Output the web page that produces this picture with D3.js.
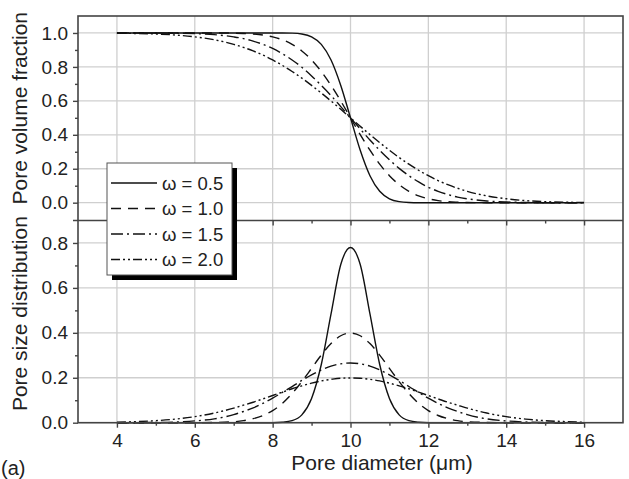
<!DOCTYPE html>
<html>
<head>
<meta charset="utf-8">
<script src="https://cdn.jsdelivr.net/npm/d3@7"></script>
<style>
  body { margin: 0; background: #fff; }
  svg { display: block; font-family: "Liberation Sans", Arial, sans-serif; }
</style>
</head>
<body>
<div id="chart"></div>
<script>
// pore diameter (um), shared by all series
const diameter = [4, 4.5, 5, 5.5, 6, 6.5, 7, 7.25, 7.5, 7.75, 8, 8.25, 8.5, 8.75, 9, 9.25, 9.5, 9.75,
  10, 10.25, 10.5, 10.75, 11, 11.25, 11.5, 11.75, 12, 12.25, 12.5, 12.75, 13, 13.5, 14, 14.5, 15, 15.5, 16];

const omegas = ["0.5", "1.0", "1.5", "2.0"];

// top panel: pore volume fraction
const pvf05 = [1, 1, 1, 1, 1, 1, 1, 1, 1, 1, 1, 1, 0.999, 0.994, 0.977, 0.933, 0.841, 0.691,
  0.5, 0.309, 0.159, 0.067, 0.023, 0.006, 0.001, 0, 0, 0, 0, 0, 0, 0, 0, 0, 0, 0, 0];
const pvf10 = [1, 1, 1, 1, 1, 1, 0.999, 0.997, 0.994, 0.988, 0.977, 0.960, 0.933, 0.894, 0.841, 0.773, 0.691, 0.599,
  0.5, 0.401, 0.309, 0.227, 0.159, 0.106, 0.067, 0.040, 0.023, 0.012, 0.006, 0.003, 0.001, 0, 0, 0, 0, 0, 0];
const pvf15 = [1, 1, 1, 0.999, 0.996, 0.990, 0.977, 0.967, 0.952, 0.933, 0.909, 0.878, 0.841, 0.798, 0.747, 0.691, 0.631, 0.566,
  0.5, 0.434, 0.369, 0.309, 0.253, 0.202, 0.159, 0.122, 0.091, 0.067, 0.048, 0.033, 0.023, 0.010, 0.004, 0.001, 0, 0, 0];
const pvf20 = [0.999, 0.997, 0.994, 0.988, 0.977, 0.960, 0.933, 0.915, 0.894, 0.870, 0.841, 0.809, 0.773, 0.734, 0.691, 0.646, 0.599, 0.550,
  0.5, 0.450, 0.401, 0.354, 0.309, 0.266, 0.227, 0.191, 0.159, 0.130, 0.106, 0.085, 0.067, 0.040, 0.023, 0.012, 0.006, 0.003, 0.001];

// bottom panel: pore size distribution
const psd05 = [0, 0, 0, 0, 0, 0, 0, 0, 0, 0, 0, 0.002, 0.009, 0.035, 0.108, 0.259, 0.484, 0.704,
  0.78, 0.704, 0.484, 0.259, 0.108, 0.035, 0.009, 0.002, 0, 0, 0, 0, 0, 0, 0, 0, 0, 0, 0];
const psd10 = [0, 0, 0, 0, 0, 0.001, 0.004, 0.009, 0.018, 0.032, 0.054, 0.086, 0.130, 0.183, 0.242, 0.301, 0.352, 0.387,
  0.399, 0.387, 0.352, 0.301, 0.242, 0.183, 0.130, 0.086, 0.054, 0.032, 0.018, 0.009, 0.004, 0.001, 0, 0, 0, 0, 0];
const psd15 = [0, 0, 0.001, 0.003, 0.008, 0.017, 0.036, 0.050, 0.066, 0.086, 0.109, 0.135, 0.161, 0.188, 0.213, 0.235, 0.252, 0.262,
  0.266, 0.262, 0.252, 0.235, 0.213, 0.188, 0.161, 0.135, 0.109, 0.086, 0.066, 0.050, 0.036, 0.017, 0.008, 0.003, 0.001, 0, 0];
const psd20 = [0.002, 0.005, 0.009, 0.016, 0.027, 0.043, 0.065, 0.078, 0.091, 0.106, 0.121, 0.136, 0.151, 0.164, 0.176, 0.186, 0.193, 0.198,
  0.199, 0.198, 0.193, 0.186, 0.176, 0.164, 0.151, 0.136, 0.121, 0.106, 0.091, 0.078, 0.065, 0.043, 0.027, 0.016, 0.009, 0.005, 0.002];

const xTicks = [4, 6, 8, 10, 12, 14, 16];
const xMinor = [5, 7, 9, 11, 13, 15];
const topTicks = [0, 0.2, 0.4, 0.6, 0.8, 1.0];
const topMinor = [0.1, 0.3, 0.5, 0.7, 0.9];
const bottomTicks = [0, 0.2, 0.4, 0.6, 0.8];
const bottomMinor = [0.1, 0.3, 0.5, 0.7];

const dashes = ["none", "10,7", "12,4,2,4", "9,3,2,3,2,3"];

const width = 629;
const height = 479;
const left = 78, right = 623;
const topY = 16, midY = 220.5, bottomY = 422.7;
const frameColor = "#444";
const gridColor = "#cfcfcf";
const font = "'Liberation Sans', Arial, sans-serif";

const x = d3.scaleLinear().domain([3, 17]).range([left, right]);
const yTop = d3.scaleLinear().domain([-0.105, 1.1]).range([midY, topY]);
const yBot = d3.scaleLinear().domain([0, 0.9]).range([bottomY, midY]);

const svg = d3.create("svg").attr("width", width).attr("height", height);

// grids
function grid(yScale, yTicks, y0, y1) {
  const g = svg.append("g");
  g.selectAll(".vx").data(xTicks).join("line")
    .attr("x1", (d) => x(d)).attr("x2", (d) => x(d))
    .attr("y1", y0).attr("y2", y1)
    .attr("stroke", gridColor).attr("stroke-width", 1.3);
  g.selectAll(".hy").data(yTicks).join("line")
    .attr("x1", left).attr("x2", right)
    .attr("y1", (d) => yScale(d)).attr("y2", (d) => yScale(d))
    .attr("stroke", gridColor).attr("stroke-width", 1.3);
}
grid(yTop, topTicks, topY, midY);
grid(yBot, bottomTicks, midY, bottomY);

// curves
const topSeries = [pvf05, pvf10, pvf15, pvf20];
const botSeries = [psd05, psd10, psd15, psd20];

const lineTop = d3.line().x((d, i) => x(diameter[i])).y((d) => yTop(d)).curve(d3.curveMonotoneX);
const lineBot = d3.line().x((d, i) => x(diameter[i])).y((d) => yBot(d)).curve(d3.curveMonotoneX);

topSeries.forEach((s, i) => {
  svg.append("path").attr("d", lineTop(s))
    .attr("fill", "none").attr("stroke", "#111").attr("stroke-width", 1.4)
    .attr("stroke-dasharray", dashes[i]);
});
botSeries.forEach((s, i) => {
  svg.append("path").attr("d", lineBot(s))
    .attr("fill", "none").attr("stroke", "#111").attr("stroke-width", 1.4)
    .attr("stroke-dasharray", dashes[i]);
});

// axes
function styleAxis(g) {
  g.select(".domain").remove();
  g.selectAll(".tick line").attr("stroke", frameColor).attr("stroke-width", 1.4);
  g.selectAll(".tick text").attr("fill", "#222").style("font-size", "19px").style("font-family", font);
}

const fmt = d3.format(".1f");

svg.append("g").attr("transform", `translate(${left},0)`)
  .call(d3.axisLeft(yTop).tickValues(topTicks).tickFormat(fmt).tickSize(5).tickPadding(5))
  .call(styleAxis);
svg.append("g").attr("transform", `translate(${left},0)`)
  .call(d3.axisLeft(yTop).tickValues(topMinor).tickFormat("").tickSize(3))
  .call(styleAxis);

svg.append("g").attr("transform", `translate(${left},0)`)
  .call(d3.axisLeft(yBot).tickValues(bottomTicks).tickFormat(fmt).tickSize(5).tickPadding(5))
  .call(styleAxis);
svg.append("g").attr("transform", `translate(${left},0)`)
  .call(d3.axisLeft(yBot).tickValues(bottomMinor).tickFormat("").tickSize(3))
  .call(styleAxis);

svg.append("g").attr("transform", `translate(0,${bottomY})`)
  .call(d3.axisBottom(x).tickValues(xTicks).tickFormat(d3.format("d")).tickSize(5).tickPadding(6))
  .call(styleAxis);
svg.append("g").attr("transform", `translate(0,${bottomY})`)
  .call(d3.axisBottom(x).tickValues(xMinor).tickFormat("").tickSize(3))
  .call(styleAxis);

svg.append("g").attr("transform", `translate(0,${midY})`)
  .call(d3.axisBottom(x).tickValues(xTicks).tickFormat("").tickSize(5))
  .call(styleAxis);
svg.append("g").attr("transform", `translate(0,${midY})`)
  .call(d3.axisBottom(x).tickValues(xMinor).tickFormat("").tickSize(3))
  .call(styleAxis);

// frames
svg.append("rect").attr("x", left).attr("y", topY)
  .attr("width", right - left).attr("height", bottomY - topY)
  .attr("fill", "none").attr("stroke", frameColor).attr("stroke-width", 1.6);
svg.append("line").attr("x1", left - 5).attr("x2", right)
  .attr("y1", midY).attr("y2", midY)
  .attr("stroke", frameColor).attr("stroke-width", 1.6);

// axis titles
svg.append("text")
  .attr("transform", `translate(27,${(topY + midY) / 2 - 10}) rotate(-90)`)
  .attr("text-anchor", "middle").style("font-size", "21px").attr("fill", "#222")
  .text("Pore volume fraction");
svg.append("text")
  .attr("transform", `translate(27,${(midY + bottomY) / 2 - 8}) rotate(-90)`)
  .attr("text-anchor", "middle").style("font-size", "21px").attr("fill", "#222")
  .text("Pore size distribution");
svg.append("text")
  .attr("x", 382).attr("y", 470)
  .attr("text-anchor", "middle").style("font-size", "21px").attr("fill", "#222")
  .text("Pore diameter (\u03bcm)");
svg.append("text")
  .attr("x", 1).attr("y", 475)
  .style("font-size", "20px").attr("fill", "#222")
  .text("(a)");

// legend
const lg = svg.append("g").attr("transform", "translate(107,163)");
lg.append("rect").attr("x", 5).attr("y", 5).attr("width", 125).attr("height", 112)
  .attr("fill", "#000").attr("stroke", "none");
lg.append("rect").attr("x", 0).attr("y", 0).attr("width", 125).attr("height", 112)
  .attr("fill", "#fff").attr("stroke", "#555").attr("stroke-width", 1);
omegas.forEach((w, i) => {
  const yy = 20 + i * 25.5;
  lg.append("line").attr("x1", 4).attr("x2", 50).attr("y1", yy).attr("y2", yy)
    .attr("stroke", "#111").attr("stroke-width", 1.4).attr("stroke-dasharray", dashes[i]);
  lg.append("text").attr("x", 55).attr("y", yy + 6.5)
    .style("font-size", "18.5px").attr("fill", "#222")
    .text("\u03c9 = " + w);
});

document.getElementById("chart").append(svg.node());
</script>
</body>
</html>
